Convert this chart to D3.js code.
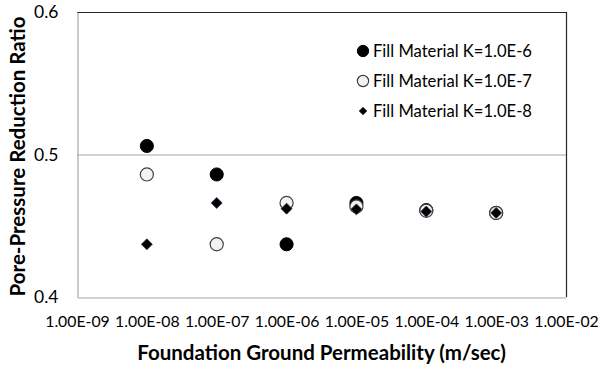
<!DOCTYPE html>
<html>
<head>
<meta charset="utf-8">
<script src="https://cdn.jsdelivr.net/npm/d3@7"></script>
<style>
  html, body { margin: 0; padding: 0; background: #fff; }
  svg { display: block; }
  text { font-family: Lato, "Open Sans", sans-serif; fill: #000; }
</style>
</head>
<body>
<svg id="chart" width="601" height="369"></svg>
<script>
// Foundation ground permeability (m/sec) at which each case was computed
const permeability = [1e-8, 1e-7, 1e-6, 1e-5, 1e-4, 1e-3];

// Pore-pressure reduction ratio for each fill material permeability
const fillK6 = [0.506, 0.486, 0.437, 0.466, 0.461, 0.459];
const fillK7 = [0.486, 0.437, 0.466, 0.4635, 0.4605, 0.459];
const fillK8 = [0.437, 0.466, 0.462, 0.4615, 0.460, 0.459];

const seriesNames = ["Fill Material K=1.0E-6", "Fill Material K=1.0E-7", "Fill Material K=1.0E-8"];

// Axis ticks
const xTickValues = [1e-9, 1e-8, 1e-7, 1e-6, 1e-5, 1e-4, 1e-3, 1e-2];
const xTickLabels = ["1.00E-09", "1.00E-08", "1.00E-07", "1.00E-06", "1.00E-05", "1.00E-04", "1.00E-03", "1.00E-02"];
const yTickValues = [0.4, 0.5, 0.6];
const yTickLabels = ["0.4", "0.5", "0.6"];

const svg = d3.select("#chart");
const plot = { left: 77, right: 566, top: 12, bottom: 297 };

const x = d3.scaleLog().domain([1e-9, 1e-2]).range([plot.left, plot.right]);
const y = d3.scaleLinear().domain([0.4, 0.6]).range([plot.bottom, plot.top]);

// Square diamond (a square turned 45 degrees), sized by area like d3 symbols
const squareDiamond = {
  draw(context, size) {
    const h = Math.sqrt(size / 2);
    context.moveTo(0, -h);
    context.lineTo(h, 0);
    context.lineTo(0, h);
    context.lineTo(-h, 0);
    context.closePath();
  }
};

// Horizontal gridline at 0.5
svg.append("g")
  .selectAll("line")
  .data(yTickValues.filter(v => v > 0.4 && v < 0.6))
  .join("line")
  .attr("x1", plot.left).attr("x2", plot.right)
  .attr("y1", d => y(d) + 0.5).attr("y2", d => y(d) + 0.5)
  .attr("stroke", "#a6a6a6").attr("stroke-width", 1);

// Plot area border (top and right)
svg.append("path")
  .attr("d", `M${plot.left},${plot.top + 0.5}H${plot.right + 0.5}V${plot.bottom}`)
  .attr("fill", "none").attr("stroke", "#262626").attr("stroke-width", 1.2);

// Y axis
const yAxis = d3.axisLeft(y)
  .tickValues(yTickValues)
  .tickFormat((d, i) => yTickLabels[i])
  .tickSize(0).tickPadding(19);
const gy = svg.append("g").attr("transform", `translate(${plot.left + 0.5},0)`).call(yAxis);
gy.select(".domain").attr("stroke", "#a6a6a6").attr("stroke-width", 1.2);
gy.selectAll("text").attr("font-size", 17.5).attr("font-family", "Lato, sans-serif").attr("fill", "#000");

// X axis
const xAxis = d3.axisBottom(x)
  .tickValues(xTickValues)
  .tickFormat((d, i) => xTickLabels[i])
  .tickSize(0).tickPadding(18);
const gx = svg.append("g").attr("transform", `translate(0,${plot.bottom + 0.5})`).call(xAxis);
gx.select(".domain").attr("stroke", "#a6a6a6").attr("stroke-width", 1.2);
gx.selectAll("text").attr("font-size", 15.8).attr("font-family", "Lato, sans-serif").attr("fill", "#000");

// Axis titles
svg.append("text")
  .attr("x", (plot.left + plot.right) / 2).attr("y", 360)
  .attr("text-anchor", "middle")
  .attr("font-size", 20.5).attr("font-weight", "bold")
  .text("Foundation Ground Permeability (m/sec)");

svg.append("text")
  .attr("transform", `translate(25,${(plot.top + plot.bottom) / 2 + 2}) rotate(-90)`)
  .attr("text-anchor", "middle")
  .attr("font-size", 20.5).attr("font-weight", "bold")
  .text("Pore-Pressure Reduction Ratio");

// Marker styles per series
const styles = [
  { shape: d3.symbolCircle, size: 135, legendSize: 100, fill: "#000", stroke: "#000", sw: 1 },
  { shape: d3.symbolCircle, size: 135, legendSize: 100, fill: "#f2f2f2", stroke: "#404040", sw: 1.2 },
  { shape: squareDiamond, size: 60, legendSize: 30, fill: "#000", stroke: "#1f2f4f", sw: 0.8 }
];

const allSeries = [fillK6, fillK7, fillK8];
allSeries.forEach((vals, s) => {
  const st = styles[s];
  svg.append("g")
    .selectAll("path")
    .data(vals.map((v, i) => ({ k: permeability[i], v })))
    .join("path")
    .attr("transform", d => `translate(${x(d.k)},${y(d.v)})`)
    .attr("d", d3.symbol().type(st.shape).size(st.size))
    .attr("fill", st.fill).attr("stroke", st.stroke).attr("stroke-width", st.sw);
});

// Legend
const legend = svg.append("g").attr("transform", "translate(363,51)");
seriesNames.forEach((name, i) => {
  const st = styles[i];
  const row = legend.append("g").attr("transform", `translate(0,${i * 30})`);
  row.append("path")
    .attr("d", d3.symbol().type(st.shape).size(st.legendSize))
    .attr("fill", st.fill).attr("stroke", st.stroke).attr("stroke-width", st.sw);
  row.append("text")
    .attr("x", 10).attr("dy", "0.35em")
    .attr("font-size", 16.6)
    .text(name);
});
</script>
</body>
</html>
